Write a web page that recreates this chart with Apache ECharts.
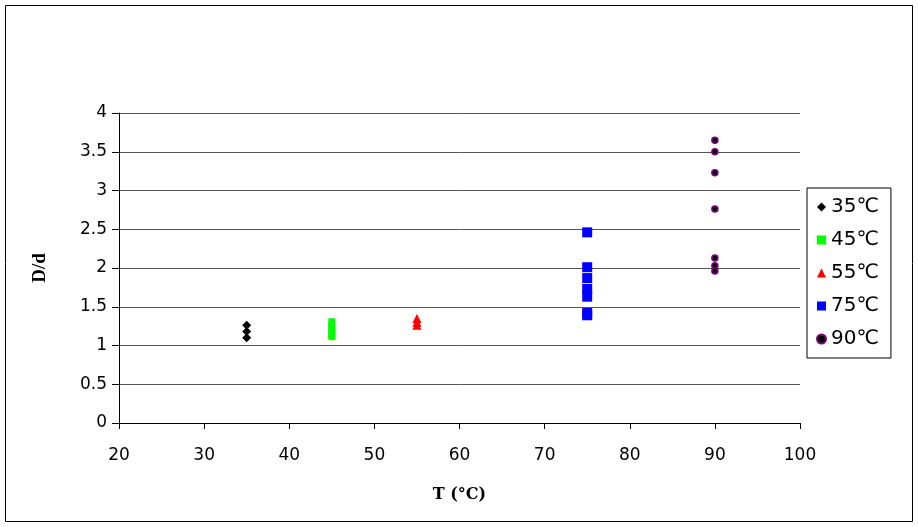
<!DOCTYPE html>
<html><head><meta charset="utf-8">
<script src="https://cdn.jsdelivr.net/npm/echarts@6/dist/echarts.min.js"></script>
<style>html,body{margin:0;padding:0;background:#fff}#c{width:918px;height:527px}</style>
</head><body><div id="c"></div>
<script>
const xTicks = [20, 30, 40, 50, 60, 70, 80, 90, 100];
const yTicks = [0, 0.5, 1, 1.5, 2, 2.5, 3, 3.5, 4];
const names = ['35℃', '45℃', '55℃', '75℃', '90℃'];
const temps = [35, 45, 55, 75, 90];
const d35 = [1.26, 1.18, 1.10];
const d45 = [1.30, 1.25, 1.20, 1.15, 1.12];
const d55 = [1.35, 1.30, 1.26];
const d75 = [2.46, 2.01, 1.87, 1.73, 1.63, 1.42, 1.39];
const d90 = [3.65, 3.50, 3.23, 2.76, 2.13, 2.03, 1.96];

const vals = [d35, d45, d55, d75, d90];
const styles = [
  {symbol: 'diamond', symbolSize: [9, 9], itemStyle: {color: '#000', opacity: 1}},
  {symbol: 'rect', symbolSize: [7, 8], itemStyle: {color: '#00ff00', opacity: 1}},
  {symbol: 'triangle', symbolSize: [9, 9], itemStyle: {color: '#ff0000', opacity: 1}},
  {symbol: 'rect', symbolSize: [10, 10], itemStyle: {color: '#0000ff', opacity: 1}},
  {symbol: 'circle', symbolSize: 6, itemStyle: {color: '#000', borderColor: '#800080', borderWidth: 1.5, opacity: 1}}
];
const series = names.map((n, i) => Object.assign({
  name: n, type: 'scatter',
  data: vals[i].map(v => [temps[i], v])
}, styles[i]));

const chart = echarts.init(document.getElementById('c'));
chart.setOption({
  animation: false,
  backgroundColor: '#fff',
  graphic: [{type: 'rect', shape: {x: 5.5, y: 5.5, width: 907, height: 516}, style: {fill: 'none', stroke: '#000', lineWidth: 1}}],
  grid: {left: 119, right: 118, top: 113, bottom: 104},
  legend: {
    orient: 'vertical', left: 807, top: 188,
    borderColor: '#000', borderWidth: 1, padding: [9, 12, 9, 9],
    itemGap: 13, itemWidth: 9, itemHeight: 9,
    textStyle: {fontFamily: 'DejaVu Sans', fontSize: 20, color: '#000', padding: [0, 0, 0, 0]},
    data: names
  },
  xAxis: {
    type: 'value', min: 20, max: 100, interval: 10,
    name: 'T (°C)', nameLocation: 'middle', nameGap: 64,
    nameTextStyle: {fontFamily: 'DejaVu Serif', fontWeight: 'bold', fontSize: 16, color: '#000'},
    axisLine: {lineStyle: {color: '#000'}},
    axisTick: {show: true, length: 6, lineStyle: {color: '#000'}},
    axisLabel: {fontFamily: 'DejaVu Sans', fontSize: 17, color: '#000', margin: 24},
    splitLine: {show: false}
  },
  yAxis: {
    type: 'value', min: 0, max: 4, interval: 0.5,
    name: 'D/d', nameLocation: 'middle', nameGap: 69,
    nameTextStyle: {fontFamily: 'Liberation Serif', fontWeight: 'bold', fontSize: 19, color: '#000'},
    axisLine: {show: true, lineStyle: {color: '#000'}},
    axisTick: {show: true, length: 7, lineStyle: {color: '#000'}},
    axisLabel: {fontFamily: 'DejaVu Sans', fontSize: 17, color: '#000', margin: 12},
    splitLine: {show: true, lineStyle: {color: '#555', width: 1}}
  },
  series: series
});
</script></body></html>
